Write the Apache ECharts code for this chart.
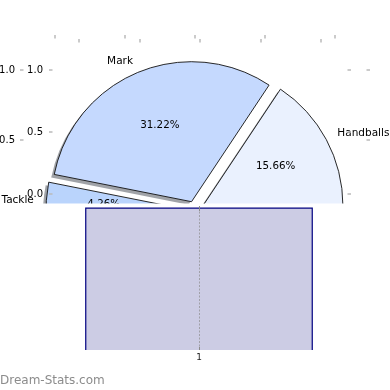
<!DOCTYPE html>
<html><head><meta charset="utf-8">
<script src="https://cdn.jsdelivr.net/npm/echarts@6/dist/echarts.min.js"></script>
<style>html,body{margin:0;padding:0;background:#fff}#c{width:390px;height:390px}</style>
</head><body><div id="c"></div>
<script>
// ---- data ----
const sliceNames = ['Handballs', 'Mark', 'Tackle', 'Other'];
const sliceValues = [15.66, 31.22, 4.26, 48.86];
const pieTicksX = [-1, -0.5, 0, 0.5, 1];
const pieTicksY = [-1, -0.5, 0, 0.5, 1];
const boxPositions = [1];
const boxQ1 = [-0.4];
const boxQ3 = [0.985];
const watermark = 'Dream-Stats.com';

// ---- styles ----
const sliceColors = ['#eaf1fe', '#c5d9fe', '#bad4fc', '#d5e3fb'];
const FONT = 'DejaVu Sans';
const BOX_WIDTH = 0.75;

const total = sliceValues.reduce((a, b) => a + b, 0);
const midCos = [];
(function () {
  let acc = 0;
  sliceValues.forEach(v => {
    const mid = (acc + v / 2) / total * 2 * Math.PI;
    midCos.push(Math.cos(mid));
    acc += v;
  });
})();

const pieCommon = {
  type: 'pie', center: [195, 210], startAngle: 0, clockwise: false,
  selectedMode: 'multiple', selectedOffset: 9, silent: true, animation: false,
  emphasis: { disabled: true }, labelLine: { show: false }, avoidLabelOverlap: false, z: 2
};

const shadowPie = Object.assign({}, pieCommon, {
  center: [192, 213], radius: 140, z: 1,
  label: { show: false },
  itemStyle: { color: 'rgba(45,50,62,0.45)', borderWidth: 0 },
  data: sliceNames.map((n, i) => ({ name: n, value: sliceValues[i], selected: true }))
});

const mainPie = Object.assign({}, pieCommon, {
  radius: 140,
  label: { show: false },
  data: sliceNames.map((n, i) => ({
    name: n, value: sliceValues[i], selected: true,
    itemStyle: { color: sliceColors[i], borderColor: '#111', borderWidth: 0.9 }
  }))
});

const pctPie = Object.assign({}, pieCommon, {
  radius: [0, 159],
  itemStyle: { color: 'rgba(0,0,0,0)', borderWidth: 0 },
  label: { show: true, position: 'inside', formatter: '{d}%', fontSize: 10.3, color: '#000', fontFamily: FONT },
  data: sliceNames.map((n, i) => ({ name: n, value: sliceValues[i], selected: true }))
});

const namePie = Object.assign({}, pieCommon, {
  radius: [140, 159],
  itemStyle: { color: 'rgba(0,0,0,0)', borderWidth: 0 },
  label: { show: true, position: 'inside', formatter: '{b}', fontSize: 10.5, color: '#000', fontFamily: FONT },
  labelLayout: p => ({ align: midCos[p.dataIndex] < 0 ? 'right' : 'left' }),
  data: sliceNames.map((n, i) => ({ name: n, value: sliceValues[i], selected: true }))
});

const tickStyle = { color: '#bbbbbb', width: 1.5 };
function tickAxis(grid, pos, ticks, extra) {
  return Object.assign({
    type: 'value', gridIndex: grid, position: pos, min: -1.25, max: 1.25, z: 3,
    axisLine: { show: false, onZero: false }, splitLine: { show: false },
    axisTick: { show: true, inside: true, length: 3.5, customValues: ticks, lineStyle: tickStyle },
    axisLabel: { show: false }
  }, extra || {});
}
function labelAxis(grid, ticks, margin) {
  return tickAxis(grid, 'left', ticks, {
    axisLabel: { show: true, customValues: ticks, formatter: v => v.toFixed(1), margin: margin,
      fontSize: 10, color: '#000', fontFamily: FONT }
  });
}
const boxTick = { show: true, inside: true, length: 3, customValues: boxPositions, lineStyle: { color: '#8a8a8a', width: 1 } };

const option = {
  animation: false,
  title: { text: watermark, left: 0, top: 375, padding: 0, z: 12,
    textStyle: { fontSize: 12, fontWeight: 'normal', color: '#8c8c8c', fontFamily: FONT } },
  grid: [
    { left: 20, top: 35, width: 350, height: 350, outerBoundsMode: 'none', containLabel: false },
    { left: 49, top: 39, width: 302, height: 310, outerBoundsMode: 'none', containLabel: false },
    { left: 48, top: 206, width: 302, height: 144, outerBoundsMode: 'none', containLabel: false }
  ],
  xAxis: [
    tickAxis(0, 'top', pieTicksX),
    tickAxis(1, 'top', pieTicksX),
    { type: 'value', gridIndex: 2, position: 'bottom', min: 0.5, max: 1.5, z: 12,
      axisLine: { show: false, onZero: false }, splitLine: { show: false },
      axisTick: boxTick,
      axisLabel: { show: true, customValues: boxPositions, margin: 3, fontSize: 9, color: '#222', fontFamily: FONT } },
    { type: 'value', gridIndex: 2, position: 'top', min: 0.5, max: 1.5, z: 12,
      axisLine: { show: false, onZero: false }, splitLine: { show: false },
      axisTick: Object.assign({}, boxTick, { length: 5 }), axisLabel: { show: false } }
  ],
  yAxis: [
    labelAxis(0, pieTicksY, 5),
    tickAxis(0, 'right', pieTicksY),
    labelAxis(1, pieTicksY, 6),
    tickAxis(1, 'right', pieTicksY),
    { type: 'value', gridIndex: 2, min: 0, max: 1, show: false, axisLine: { onZero: false } }
  ],
  graphic: [
    { type: 'rect', z: 5, silent: true, shape: { x: 0, y: 203.5, width: 390, height: 190 }, style: { fill: '#fff' } }
  ],
  series: [
    shadowPie, mainPie, pctPie, namePie,
    {
      type: 'custom', xAxisIndex: 2, yAxisIndex: 4, z: 10, clip: true, silent: true,
      encode: { x: 0, y: [1, 2] },
      renderItem: function (params, api) {
        const x = api.value(0);
        const pLo = api.coord([x, api.value(1)]);
        const pHi = api.coord([x, api.value(2)]);
        const w = api.size([BOX_WIDTH, 0])[0];
        return {
          type: 'rect',
          shape: { x: pHi[0] - w / 2, y: pHi[1], width: w, height: pLo[1] - pHi[1] },
          style: { fill: '#ccccE4', stroke: '#000080', lineWidth: 1.2 }
        };
      },
      data: boxPositions.map((p, i) => [p, boxQ1[i], boxQ3[i]]),
      markLine: { silent: true, z: 11, symbol: 'none', label: { show: false }, animation: false,
        lineStyle: { type: [2, 1.5], color: '#a0a0a8', width: 1 },
        data: boxPositions.map(p => ({ xAxis: p })) }
    }
  ]
};
echarts.init(document.getElementById('c')).setOption(option);
</script></body></html>
